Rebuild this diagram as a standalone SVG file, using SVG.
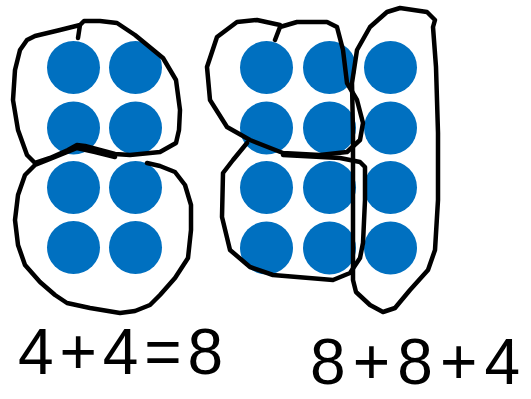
<svg xmlns="http://www.w3.org/2000/svg" width="531" height="399" viewBox="0 0 531 399">
<style>
.dot{fill:#0070C0}
.loop{fill:none;stroke:#000;stroke-width:4.5;stroke-linejoin:round;stroke-linecap:round}
.lbl{font-family:"Liberation Sans",Arial,sans-serif;font-size:64px;fill:#000}
</style>
<rect width="531" height="399" fill="#fff"/>
<g id="left-group">
<circle class="dot" cx="73.5" cy="67.5" r="26.5"/>
<circle class="dot" cx="135.5" cy="67.5" r="26.5"/>
<circle class="dot" cx="73.5" cy="128" r="26.5"/>
<circle class="dot" cx="135.5" cy="128" r="26.5"/>
<circle class="dot" cx="73.5" cy="187.5" r="26.5"/>
<circle class="dot" cx="135.5" cy="187.5" r="26.5"/>
<circle class="dot" cx="73.5" cy="247.5" r="26.5"/>
<circle class="dot" cx="135.5" cy="247.5" r="26.5"/>
</g>
<g id="right-group">
<circle class="dot" cx="266.5" cy="67.5" r="26.5"/>
<circle class="dot" cx="329.5" cy="67.5" r="26.5"/>
<circle class="dot" cx="390.5" cy="67.5" r="26.5"/>
<circle class="dot" cx="266.5" cy="128" r="26.5"/>
<circle class="dot" cx="329.5" cy="128" r="26.5"/>
<circle class="dot" cx="390.5" cy="128" r="26.5"/>
<circle class="dot" cx="266.5" cy="187.5" r="26.5"/>
<circle class="dot" cx="329.5" cy="187.5" r="26.5"/>
<circle class="dot" cx="390.5" cy="187.5" r="26.5"/>
<circle class="dot" cx="266.5" cy="248" r="26.5"/>
<circle class="dot" cx="329.5" cy="248" r="26.5"/>
<circle class="dot" cx="390.5" cy="248" r="26.5"/>
</g>
<g id="loops">
<polyline id="loop-left-top" class="loop" points="78,38 80,25 84,21 100,21 117,23 135,35 163,58 176,80 180,110 179,130 176,143 160,152 130,155 115,154 100,150 85,146 77,145 68,150 50,158 35,163 27,155 18,130 13,100 15,70 20,50 27,40 35,36 60,30 80,25"/>
<polyline id="loop-left-bottom" class="loop" points="147,163 160,166 175,172 185,185 191,205 191,230 188,258 175,278 160,295 150,305 135,311 120,313 90,308 67,303 55,295 40,282 25,265 18,245 15,220 18,195 25,175 35,165 55,157 77,148 95,152 115,157"/>
<polyline id="loop-right-top" class="loop" points="275,40 280,27 297,22 327,22 337,27 343,50 347,83 357,100 363,123 360,140 347,152 320,155 283,153 250,140 227,127 210,100 207,67 217,37 237,22 257,20 280,25"/>
<polyline id="loop-right-bottom" class="loop" points="247,143 233,160 223,173 222,217 230,250 250,267 273,275 333,280 350,273 360,258 363,243 365,200 365,167 360,162 340,158 283,155"/>
<polyline id="loop-right-tall" class="loop" points="433,27 435,20 427,12 400,8 387,12 370,27 357,50 352,83 353,133 353,200 353,280 356,292 370,305 383,312 395,308 410,290 428,270 435,250 438,200 438,133 436,67 433,27"/>
</g>
<g id="labels">
<text class="lbl" x="18" y="374" textLength="205" lengthAdjust="spacing">4+4=8</text>
<text class="lbl" x="310" y="384" textLength="210" lengthAdjust="spacing">8+8+4</text>
</g>
</svg>
